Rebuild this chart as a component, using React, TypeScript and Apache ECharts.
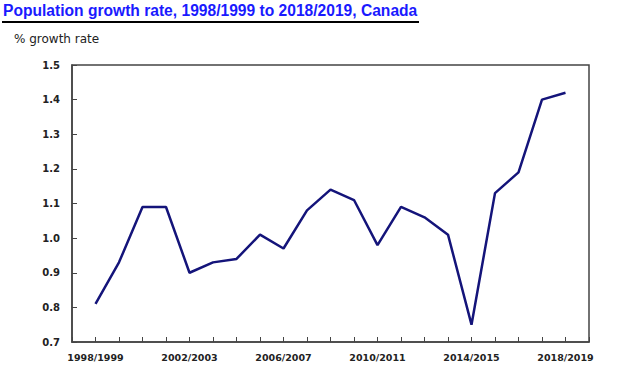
import React, { useEffect, useRef } from "react";
import * as echarts from "echarts";

const categories = [
  "1998/1999", "1999/2000", "2000/2001", "2001/2002", "2002/2003", "2003/2004",
  "2004/2005", "2005/2006", "2006/2007", "2007/2008", "2008/2009", "2009/2010",
  "2010/2011", "2011/2012", "2012/2013", "2013/2014", "2014/2015", "2015/2016",
  "2016/2017", "2017/2018", "2018/2019",
];
const growthRate = [
  0.81, 0.93, 1.09, 1.09, 0.90, 0.93, 0.94, 1.01, 0.97, 1.08, 1.14, 1.11,
  0.98, 1.09, 1.06, 1.01, 0.75, 1.13, 1.19, 1.40, 1.42,
];
const yTicks = [0.7, 0.8, 0.9, 1.0, 1.1, 1.2, 1.3, 1.4, 1.5];
const title = "Population growth rate, 1998/1999 to 2018/2019, Canada";
const yAxisTitle = "% growth rate";

export default function App() {
  const ref = useRef<HTMLDivElement>(null);
  useEffect(() => {
    document.body.style.margin = "0";
    const chart = echarts.init(ref.current!, null, { renderer: "svg" });
    chart.setOption({
      animation: false,
      backgroundColor: "#ffffff",
      graphic: [
        {
          type: "text",
          left: 3,
          top: 2,
          style: {
            text: title,
            fill: "#1a1aff",
            font: "bold 15.6px 'Liberation Sans', Arial, sans-serif",
          },
        },
        {
          type: "line",
          shape: { x1: 2, y1: 22, x2: 419, y2: 22 },
          style: { stroke: "#000", lineWidth: 2 },
        },
        {
          type: "text",
          left: 14,
          top: 33,
          style: {
            text: yAxisTitle,
            fill: "#222",
            font: "12px 'DejaVu Sans', Verdana, sans-serif",
          },
        },
      ],
      grid: {
        left: 72,
        right: 50,
        top: 65,
        bottom: 37,
        show: true,
        borderColor: "#444",
        borderWidth: 1.5,
      },
      xAxis: {
        type: "value",
        min: -1,
        max: categories.length,
        interval: 1,
        splitLine: { show: false },
        axisLine: { show: true, onZero: false, lineStyle: { color: "#444", width: 1.5 } },
        axisTick: { show: true, inside: true, length: 5, lineStyle: { color: "#444" } },
        axisLabel: {
          margin: 10,
          color: "#222",
          fontFamily: "'DejaVu Sans', Verdana, sans-serif",
          fontSize: 9.5,
          fontWeight: "bold",
          formatter: (v: number) =>
            v >= 0 && v < categories.length && v % 4 === 0 ? categories[v] : "",
        },
      },
      yAxis: {
        type: "value",
        min: yTicks[0],
        max: yTicks[yTicks.length - 1],
        interval: 0.1,
        splitLine: { show: false },
        axisLine: { show: true, onZero: false, lineStyle: { color: "#444", width: 1.5 } },
        axisTick: { show: true, inside: true, length: 5, lineStyle: { color: "#444" } },
        axisLabel: {
          margin: 12,
          color: "#222",
          fontFamily: "'DejaVu Sans', Verdana, sans-serif",
          fontSize: 10,
          fontWeight: "bold",
          formatter: (v: number) => v.toFixed(1),
        },
      },
      series: [
        {
          type: "line",
          data: growthRate.map((v, i) => [i, v]),
          showSymbol: false,
          lineStyle: { color: "#14147a", width: 2.5 },
          itemStyle: { color: "#14147a" },
        },
      ],
    });
    return () => chart.dispose();
  }, []);
  return <div ref={ref} style={{ width: 639, height: 379 }} />;
}
